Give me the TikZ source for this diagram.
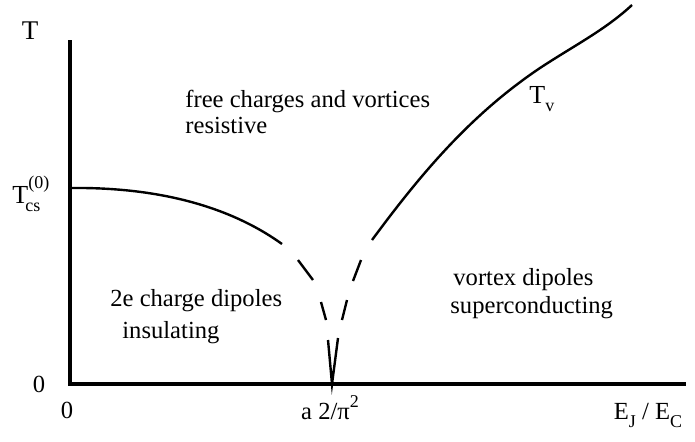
\documentclass[tikz,border=0pt]{standalone}
\usepackage{fontspec}
\setmainfont{Liberation Serif}
\newcommand{\smallsz}{\fontsize{9}{10}\selectfont}

\begin{document}
\begin{tikzpicture}[x=0.5pt, y=-0.5pt,
    axis/.style={line width=2pt},
    phase/.style={line width=1.2pt},
    lbl/.style={font=\fontsize{12.3}{14}\selectfont, inner sep=0pt},
    region/.style={lbl, anchor=base west}
]
    \useasboundingbox (0,0) rectangle (695,441);

    % Axes
    \coordinate (ytop) at (70,40);
    \coordinate (orig) at (70,384);
    \coordinate (xend) at (686,384);
    \coordinate (crit) at (332,384);
    \draw[axis] (ytop) -- (orig) -- (xend);

    % Charge line, dashed towards the critical point
    \coordinate (tcs0) at (70,188);
    \draw[phase] (tcs0) .. controls (150,187) and (225,203) .. (282,244);
    \draw[phase] (298,260) -- (313,280);
    \draw[phase] (321,302) -- (326,320);
    \draw[phase] (328,340) -- (crit) -- (338,338);
    \draw[phase] (342,320) -- (347,300);
    \draw[phase] (353,281) -- (361,260);

    % Vortex line
    \draw[phase] (372,240) .. controls (420,175) and (470,115) .. (540,68)
        .. controls (575,45) and (605,30) .. (632,5);

    % Axis labels
    \node[lbl, font=\fontsize{13.5}{15}\selectfont] (tlab) at (30,31) {T};
    \node[lbl, font=\fontsize{13}{15}\selectfont, anchor=base west] (tcs) at (12,203)
        {T\rlap{\kern-1.5pt\raisebox{-4pt}{\smallsz cs}}\raisebox{7.5pt}{\smallsz (0)}};
    \node[lbl, anchor=base] (yzero) at (39,392) {0};
    \node[lbl, anchor=base] (xzero) at (67,418) {0};
    \node[lbl, anchor=base] (xcrit) at (330,419) {a 2/π\raisebox{6pt}{\smallsz 2}};
    \node[lbl, anchor=base] (xlab) at (648,419)
        {E\raisebox{-4pt}{\smallsz J} / E\raisebox{-4pt}{\smallsz C}};
    \node[lbl, font=\fontsize{13}{15}\selectfont, anchor=base west] (tv) at (529,103)
        {T\raisebox{-4pt}{\smallsz v}};

    % Phases
    \node[region] (free) at (185,107) {free charges and vortices};
    \node[region] (resist) at (185,133) {resistive};
    \node[region] (charge) at (110,306) {2e charge dipoles};
    \node[region] (insul) at (122,338) {insulating};
    \node[region] (vortex) at (453,285) {vortex dipoles};
    \node[region] (super) at (450,313) {superconducting};
\end{tikzpicture}
\end{document}
